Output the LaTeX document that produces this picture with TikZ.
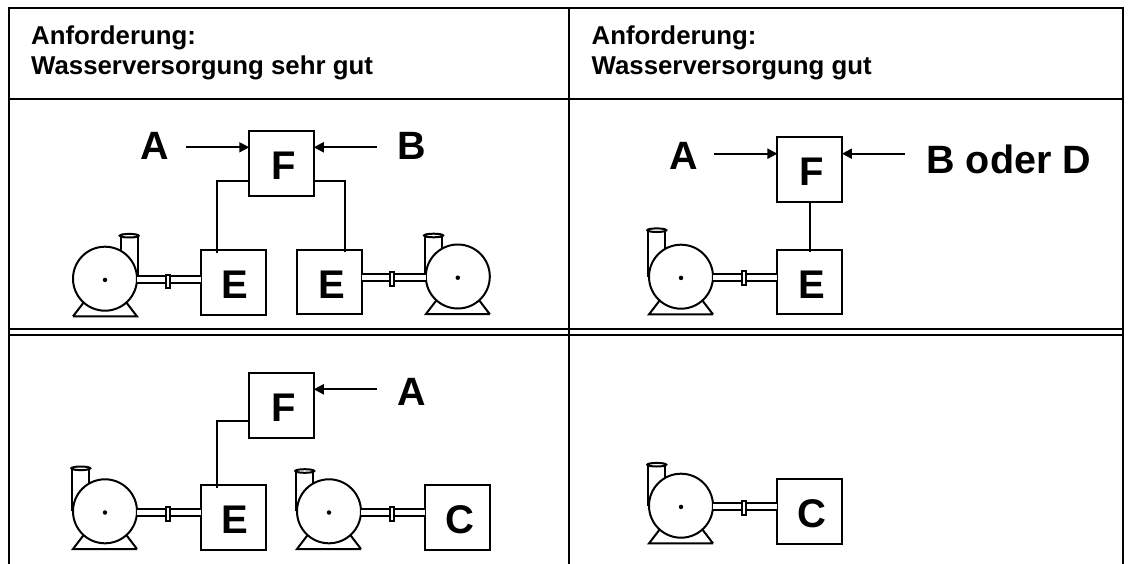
\documentclass[tikz,border=0pt]{standalone}
\usepackage{fontspec}
\setmainfont{Liberation Sans}
\usetikzlibrary{positioning,arrows.meta}

\tikzset{
    linie/.style={line width=2pt},
    gitter/.style={line width=2pt},
    kasten/.style={draw, linie, fill=white, minimum size=64.5pt, inner sep=0pt, outer sep=0pt, text height=32pt, text depth=0pt,
        execute at begin node={\hspace*{3.5pt}}, font=\fontsize{40}{40}\selectfont\bfseries},
    marke/.style={anchor=base, inner sep=0pt, outer sep=0pt, font=\fontsize{39.5}{40}\selectfont\bfseries},
    kopf/.style={anchor=north west, inner sep=0pt, align=left, font=\fontsize{25.8}{30}\selectfont\bfseries},
    pfeil/.style={linie, -{Stealth[length=10pt, width=10pt, inset=0pt]}},
    rohr/.style={line width=2pt, double=white, double distance=5pt},
    flansch/.style={draw, linie, fill=white, minimum width=4pt, minimum height=13.5pt, inner sep=0pt},
    stich/.style={linie, shorten <=-2.5pt}
}

% pump: name, x, y, side of the stack (1 or -1), height of the stack
\newcommand{\pumpe}[5]{
    \begin{scope}[shift={(#2,#3)}, xscale=#4]
        \draw[linie] (15.7,0) -- (15.7,-#5) (32.7,0) -- (32.7,-#5);
        \draw[linie] (-32,37.7) -- (32,37.7) -- (20,22) (-32,37.7) -- (-20,22);
        \draw[linie, fill=white] (24.2,-#5) ellipse (9.5 and 1.8);
    \end{scope}
    \node[draw, linie, fill=white, circle, minimum size=64pt, inner sep=0pt, outer sep=0pt] (#1) at (#2,#3) {};
    \node[fill, circle, minimum size=4.5pt, inner sep=0pt] (#1m) at (#2,#3+1.2) {};
}

\begin{document}
\begin{tikzpicture}[x=1pt, y=-1pt]
    \useasboundingbox (0,0) rectangle (1134,564);

    % Table
    \draw[gitter] (9.3,564) -- (9.3,8) -- (1123,8) -- (1123,564);
    \draw[gitter] (569.2,8) -- (569.2,564);
    \draw[gitter] (9.3,99) -- (1123,99);
    \draw[gitter] (9.3,329.3) -- (1123,329.3);
    \draw[gitter] (9.3,334.7) -- (1123,334.7);

    \node[kopf] (kopflinks) at (31,25.5) {Anforderung:\\Wasserversorgung sehr gut};
    \node[kopf] (kopfrechts) at (591.5,25.5) {Anforderung:\\Wasserversorgung gut};

    % Top left
    \node[kasten] (f1) at (281.5,163.3) {F};
    \node[kasten] (e1) at (233.5,282.5) {E};
    \node[kasten] (e2) at (329.7,282.2) {E};
    \node[marke] (a1) at (155,160) {A};
    \node[marke] (b1) at (411.5,160) {B};
    \coordinate (a1ende) at (186,147.3);
    \coordinate (b1ende) at (377,147.3);
    \coordinate (k1) at (217,181.3);
    \coordinate (k2) at (345,181.3);

    \draw[pfeil] (a1ende) -- (f1.west |- a1ende);
    \draw[pfeil] (b1ende) -- (f1.east |- b1ende);
    \draw[stich] (e1.north -| k1) -- (k1) -- (k1 -| f1.west);
    \draw[stich] (e2.north -| k2) -- (k2) -- (k2 -| f1.east);

    \pumpe{p1}{105}{278.7}{1}{43}
    \pumpe{p2}{457.8}{276.5}{-1}{41}
    \draw[rohr] (p1.east |- p1m) -- (p1m -| e1.west);
    \draw[rohr] (p2.west |- p2m) -- (p2m -| e2.east);
    \node[flansch] (fl1) at (167.5,281.5) {};
    \node[flansch] (fl2) at (391.8,279) {};

    % Top right
    \node[kasten] (f2) at (809.7,169.7) {F};
    \node[kasten] (e3) at (809.7,282) {E};
    \node[marke] (a2) at (683.3,169.3) {A};
    \node[marke] (b2) at (1008.7,173.3) {B oder D};
    \coordinate (a2ende) at (714,153.7);
    \coordinate (b2ende) at (905,153.7);

    \draw[pfeil] (a2ende) -- (f2.west |- a2ende);
    \draw[pfeil] (b2ende) -- (f2.east |- b2ende);
    \draw[linie, shorten >=-2pt] (f2) -- (e3);

    \pumpe{p3}{681}{276.7}{-1}{46.5}
    \draw[rohr] (p3.east |- p3m) -- (p3m -| e3.west);
    \node[flansch] (fl3) at (744,278) {};

    % Bottom left
    \node[kasten] (f3) at (281.5,405.3) {F};
    \node[kasten] (e4) at (233.4,517.5) {E};
    \node[kasten] (c1) at (457.7,517.5) {C};
    \node[marke] (a3) at (411.3,405) {A};
    \coordinate (a3ende) at (376.7,389.3);
    \coordinate (k3) at (217.3,421.3);

    \draw[pfeil] (a3ende) -- (f3.east |- a3ende);
    \draw[stich] (e4.north -| k3) -- (k3) -- (k3 -| f3.west);

    \pumpe{p4}{105}{511.3}{-1}{43}
    \pumpe{p5}{329}{511.3}{-1}{40.3}
    \draw[rohr] (p4.east |- p4m) -- (p4m -| e4.west);
    \draw[rohr] (p5.east |- p5m) -- (p5m -| c1.west);
    \node[flansch] (fl4) at (167.5,513.8) {};
    \node[flansch] (fl5) at (391.7,514) {};

    % Bottom right
    \node[kasten] (c2) at (809.7,511.5) {C};
    \pumpe{p6}{681}{505.7}{-1}{41}
    \draw[rohr] (p6.east |- p6m) -- (p6m -| c2.west);
    \node[flansch] (fl6) at (744,508) {};
\end{tikzpicture}
\end{document}
